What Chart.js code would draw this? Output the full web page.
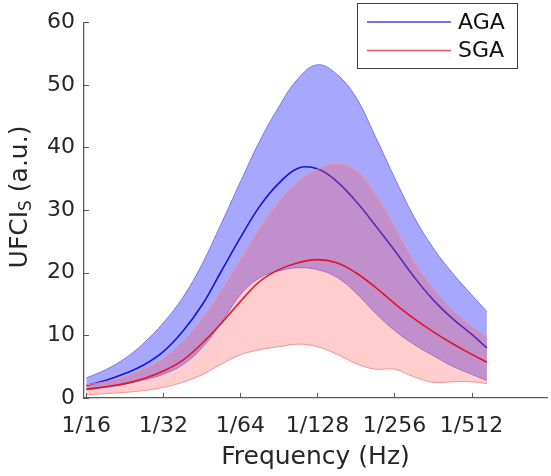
<!DOCTYPE html>
<html lang="en">
<head>
    <meta charset="UTF-8">
    <title>UFCI spectrum</title>
    <script src="https://cdn.jsdelivr.net/npm/chart.js@4.4.1/dist/chart.umd.min.js"></script>
    <style>
        body { margin: 0; background: #fff; }
    </style>
</head>
<body>
    <canvas id="myChart" width="551" height="476"></canvas>

<script type="text/javascript">
    // x positions in octaves below 1/16 Hz (0 = 1/16, 1 = 1/32, ...)
    let octaves = [0, 0.25, 0.5, 0.75, 1, 1.25, 1.5, 1.75, 2, 2.25, 2.5, 2.75, 3, 3.25, 3.5, 3.75, 4, 4.25, 4.5, 4.75, 5, 5.2];
    let tickLabels = ['1/16', '1/32', '1/64', '1/128', '1/256', '1/512'];
    let seriesNames = ['AGA', 'SGA'];

    let agaMean  = [2.0, 2.8, 3.9, 5.3, 7.4, 10.6, 14.8, 20.2, 25.6, 30.6, 34.3, 36.7, 36.6, 34.6, 31.4, 27.6, 23.6, 19.4, 15.7, 12.7, 10.2, 8.0];
    let agaUpper = [3.2, 4.5, 6.3, 8.8, 12.0, 16.0, 21.3, 27.8, 34.5, 41.0, 46.5, 51.0, 53.2, 51.7, 48.0, 41.8, 35.2, 29.0, 24.0, 20.0, 16.5, 13.8];
    let agaLower = [1.3, 1.7, 2.2, 2.9, 3.8, 5.3, 8.0, 12.0, 16.5, 19.2, 20.3, 20.8, 20.5, 19.3, 16.8, 13.6, 10.8, 8.6, 6.8, 5.1, 3.8, 2.8];

    let sgaMean  = [1.4, 1.8, 2.3, 3.1, 4.3, 6.0, 8.7, 11.9, 15.4, 18.6, 20.5, 21.6, 22.1, 21.6, 20.0, 17.7, 15.1, 12.7, 10.6, 8.7, 7.0, 5.7];
    let sgaUpper = [2.1, 2.6, 3.4, 4.6, 6.3, 9.0, 12.5, 17.0, 22.0, 27.0, 31.3, 34.5, 36.5, 37.3, 36.3, 32.5, 27.3, 21.8, 17.5, 14.1, 11.4, 9.6];
    let sgaLower = [0.5, 0.7, 0.9, 1.2, 1.7, 2.5, 3.7, 5.4, 6.9, 7.7, 8.2, 8.6, 8.2, 7.0, 5.5, 4.6, 4.6, 3.4, 2.5, 2.6, 2.6, 2.3];

    let textColor = '#262626';
    let axisColor = '#5a5a5a';
    let fontFamily = '"DejaVu Sans", sans-serif';

    let toPoints = function (vals) {
        return vals.map(function (v, i) { return { x: octaves[i], y: v }; });
    };

    let curve = { pointRadius: 0, pointHoverRadius: 0, tension: 0.4 };

    let datasets = [
        Object.assign({ data: toPoints(agaUpper), fill: 1, backgroundColor: 'rgba(60,60,250,0.45)', borderColor: 'rgba(110,110,235,0.9)', borderWidth: 1, order: 6 }, curve),
        Object.assign({ data: toPoints(agaLower), fill: false, borderColor: 'rgba(110,110,235,0.9)', borderWidth: 1, order: 5 }, curve),
        Object.assign({ label: seriesNames[0], data: toPoints(agaMean), fill: false, borderColor: 'rgb(20,20,220)', borderWidth: 1.6, order: 4, legendColor: 'rgb(70,70,215)' }, curve),
        Object.assign({ data: toPoints(sgaUpper), fill: 4, backgroundColor: 'rgba(255,90,90,0.3)', borderColor: 'rgba(245,140,140,0.95)', borderWidth: 1, order: 3 }, curve),
        Object.assign({ data: toPoints(sgaLower), fill: false, borderColor: 'rgba(245,140,140,0.95)', borderWidth: 1, order: 2 }, curve),
        Object.assign({ label: seriesNames[1], data: toPoints(sgaMean), fill: false, borderColor: 'rgb(225,20,40)', borderWidth: 1.6, order: 1, legendColor: 'rgb(230,90,90)' }, curve)
    ];

    // inward tick marks, y title with subscript, boxed legend
    let decorations = {
        id: 'decorations',
        afterDraw: function (chart) {
            let ctx = chart.ctx;
            let area = chart.chartArea;
            let xs = chart.scales.x;
            let ys = chart.scales.y;
            ctx.save();
            ctx.strokeStyle = axisColor;
            ctx.lineWidth = 1;
            ys.ticks.forEach(function (t) {
                let py = Math.round(ys.getPixelForValue(t.value)) + 0.5;
                ctx.beginPath();
                ctx.moveTo(area.left, py);
                ctx.lineTo(area.left + 5, py);
                ctx.stroke();
            });
            xs.ticks.forEach(function (t) {
                let px = Math.round(xs.getPixelForValue(t.value)) + 0.5;
                ctx.beginPath();
                ctx.moveTo(px, area.bottom);
                ctx.lineTo(px, area.bottom - 5);
                ctx.stroke();
            });

            // y axis title: UFCI_S (a.u.)
            ctx.fillStyle = textColor;
            ctx.textBaseline = 'alphabetic';
            ctx.textAlign = 'left';
            let big = '25px ' + fontFamily;
            let small = '17px ' + fontFamily;
            ctx.font = big;
            let w1 = ctx.measureText('UFCI').width;
            let w3 = ctx.measureText(' (a.u.)').width;
            ctx.font = small;
            let w2 = ctx.measureText('S').width;
            let total = w1 + w2 + w3;
            ctx.translate(27, 197);
            ctx.rotate(-Math.PI / 2);
            let x0 = -total / 2;
            ctx.font = big;
            ctx.fillText('UFCI', x0, 0);
            ctx.font = small;
            ctx.fillText('S', x0 + w1, 4);
            ctx.font = big;
            ctx.fillText(' (a.u.)', x0 + w1 + w2, 0);
            ctx.setTransform(1, 0, 0, 1, 0, 0);

            // legend box
            let bx = 357, by = 3, bw = 160, bh = 65;
            ctx.fillStyle = '#fff';
            ctx.fillRect(bx, by, bw, bh);
            ctx.strokeStyle = '#3c3c3c';
            ctx.lineWidth = 1;
            ctx.strokeRect(bx + 0.5, by + 0.5, bw, bh);
            let items = chart.data.datasets.filter(function (d) { return d.label; });
            items.forEach(function (d, i) {
                let ly = 22 + i * 28.5;
                ctx.strokeStyle = d.legendColor;
                ctx.lineWidth = 1.6;
                ctx.beginPath();
                ctx.moveTo(367, ly);
                ctx.lineTo(451, ly);
                ctx.stroke();
                ctx.fillStyle = '#111';
                ctx.font = '22px ' + fontFamily;
                ctx.textBaseline = 'middle';
                ctx.fillText(d.label, 458, ly + 1);
            });
            ctx.restore();
        }
    };

    let ctx = document.getElementById('myChart').getContext('2d');
    window.bandChart = new Chart(ctx, {
        type: 'line',
        data: { datasets: datasets },
        plugins: [decorations],
        options: {
            responsive: false,
            animation: false,
            events: [],
            layout: { padding: { top: 14, right: 4, left: 0, bottom: 0 } },
            plugins: {
                legend: { display: false },
                tooltip: { enabled: false },
                filler: { propagate: false }
            },
            scales: {
                x: {
                    type: 'linear',
                    min: -0.03,
                    max: 5.98,
                    afterBuildTicks: function (scale) {
                        scale.ticks = tickLabels.map(function (l, i) { return { value: i }; });
                    },
                    afterFit: function (scale) { scale.height = 78; },
                    grid: { display: false, drawTicks: false },
                    border: { color: axisColor, width: 1.3 },
                    ticks: {
                        color: textColor,
                        font: { family: fontFamily, size: 22 },
                        padding: 15,
                        maxRotation: 0,
                        autoSkip: false,
                        callback: function (v, i) { return tickLabels[i]; }
                    },
                    title: {
                        display: true,
                        text: 'Frequency (Hz)',
                        color: textColor,
                        font: { family: fontFamily, size: 25 },
                        padding: { top: 0, bottom: 4 }
                    }
                },
                y: {
                    min: 0,
                    max: 60,
                    afterFit: function (scale) { scale.width = 84; },
                    grid: { display: false, drawTicks: false },
                    border: { color: axisColor, width: 1.3 },
                    ticks: {
                        stepSize: 10,
                        color: textColor,
                        font: { family: fontFamily, size: 22 },
                        padding: 9
                    }
                }
            }
        }
    });
</script>
</body>
</html>
